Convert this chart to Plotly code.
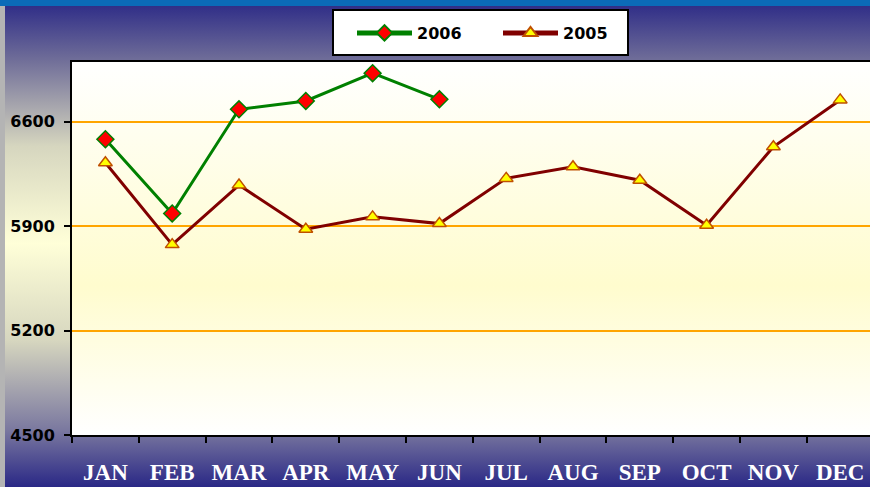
import base64
import plotly.graph_objects as go

months = ["JAN", "FEB", "MAR", "APR", "MAY", "JUN", "JUL", "AUG", "SEP", "OCT", "NOV", "DEC"]
months_2006 = ["JAN", "FEB", "MAR", "APR", "MAY", "JUN"]
values_2006 = [6482, 5985, 6683, 6739, 6925, 6750]
values_2005 = [6325, 5776, 6175, 5879, 5962, 5917, 6220, 6298, 6208, 5906, 6432, 6746]
y_ticks = [4500, 5200, 5900, 6600]

W, H = 870, 487
ML, MR, MT, MB = 72, 0, 62, 52
PW, PH = W - ML - MR, H - MT - MB

def svg_uri(svg):
    return "data:image/svg+xml;base64," + base64.b64encode(svg.encode()).decode()

bg_svg = f'''<svg xmlns="http://www.w3.org/2000/svg" width="{W}" height="{H}" viewBox="0 0 {W} {H}" preserveAspectRatio="none">
<defs><linearGradient id="g" x1="0" y1="0" x2="0" y2="1">
<stop offset="0" stop-color="#2a2886"/>
<stop offset="0.12" stop-color="#6e6c98"/>
<stop offset="0.3" stop-color="#d6d6bf"/>
<stop offset="0.5" stop-color="#ffffd8"/>
<stop offset="0.7" stop-color="#d6d6bf"/>
<stop offset="0.88" stop-color="#7c7aa0"/>
<stop offset="1" stop-color="#2a2886"/>
</linearGradient></defs>
<rect x="0" y="0" width="{W}" height="{H}" fill="url(#g)"/>
<rect x="0" y="0" width="5" height="{H}" fill="#b4b4b4"/>
<rect x="0" y="0" width="{W}" height="6" fill="#0b6bb8"/>
</svg>'''

plot_svg = '''<svg xmlns="http://www.w3.org/2000/svg" width="100" height="100" viewBox="0 0 100 100" preserveAspectRatio="none">
<defs><linearGradient id="p" x1="0" y1="0" x2="0" y2="1">
<stop offset="0" stop-color="#ffffff"/>
<stop offset="0.6" stop-color="#fffcce"/>
<stop offset="1" stop-color="#ffffff"/>
</linearGradient></defs>
<rect x="0" y="0" width="100" height="100" fill="url(#p)"/>
</svg>'''

def px_x(px):
    return (px - ML) / PW

def px_y(py):
    return 1 + (MT - py) / PH

fig = go.Figure()
fig.add_trace(go.Scatter(
    x=months_2006, y=values_2006, name="2006", mode="lines+markers",
    line=dict(color="#008000", width=3),
    marker=dict(symbol="diamond", size=13, color="#ff0000", line=dict(color="#008000", width=1.5)),
))
fig.add_trace(go.Scatter(
    x=months, y=values_2005, name="2005", mode="lines+markers",
    line=dict(color="#800000", width=3),
    marker=dict(symbol="triangle-up", size=12, color="#ffff00", line=dict(color="#c05000", width=1.5)),
))

fig.update_layout(
    width=W, height=H,
    margin=dict(l=ML, r=MR, t=MT, b=MB, pad=0),
    paper_bgcolor="#6e6c98",
    plot_bgcolor="rgba(0,0,0,0)",
    showlegend=True,
    legend=dict(
        orientation="h", x=px_x(352), y=px_y(33), xanchor="left", yanchor="middle",
        bgcolor="rgba(0,0,0,0)", borderwidth=0,
        font=dict(family="DejaVu Sans", size=16, color="#000000", weight="bold"),
        entrywidth=76, entrywidthmode="pixels", itemwidth=55, itemsizing="constant",
    ),
    images=[
        dict(source=svg_uri(bg_svg), xref="paper", yref="paper",
             x=-ML / PW, y=1 + MT / PH, sizex=W / PW, sizey=H / PH,
             xanchor="left", yanchor="top", sizing="stretch", layer="below"),
        dict(source=svg_uri(plot_svg), xref="paper", yref="paper",
             x=0, y=1, sizex=1, sizey=1,
             xanchor="left", yanchor="top", sizing="stretch", layer="below"),
    ],
    shapes=[
        dict(type="rect", xref="paper", yref="paper",
             x0=px_x(333), x1=px_x(628), y0=px_y(55), y1=px_y(10),
             fillcolor="#ffffff", line=dict(color="#000000", width=2), layer="below"),
    ],
    xaxis=dict(
        type="category", categoryorder="array", categoryarray=months,
        range=[-0.5, -0.5 + PW / 66.8],
        showgrid=False, zeroline=False,
        showline=True, linecolor="#000000", linewidth=2, mirror=True,
        ticks="outside", tickson="boundaries", ticklen=6, tickcolor="#000000", tickwidth=2,
        tickfont=dict(family="Liberation Serif", size=23, color="#ffffff", weight="bold"),
        ticklabelstandoff=15,
    ),
    yaxis=dict(
        range=[4500, 7000], tickvals=y_ticks, ticktext=[str(v) for v in y_ticks],
        showgrid=True, gridcolor="#ffa500", gridwidth=2, zeroline=False,
        showline=True, linecolor="#000000", linewidth=2,
        ticks="outside", ticklen=6, tickcolor="#000000", tickwidth=2,
        tickfont=dict(family="DejaVu Sans", size=16, color="#000000", weight="bold"),
        ticklabelstandoff=6,
    ),
)

fig.write_html(
    "out.html",
    config={"displayModeBar": False},
    post_script="document.body.style.margin='0';document.body.style.overflow='hidden';",
)
